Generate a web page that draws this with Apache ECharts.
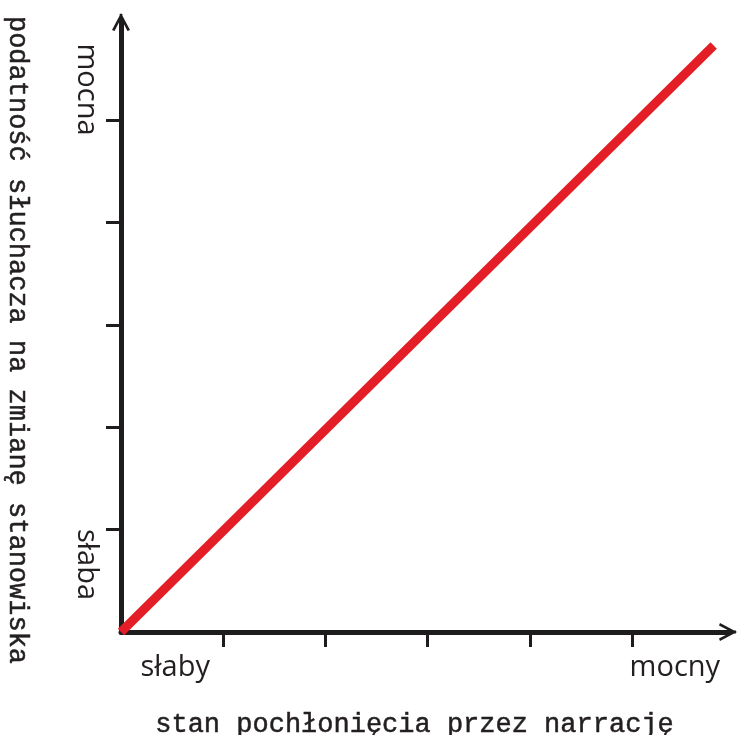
<!DOCTYPE html>
<html>
<head>
<meta charset="utf-8">
<script src="https://cdn.jsdelivr.net/npm/echarts@6/dist/echarts.min.js"></script>
<style>
  html, body { margin: 0; padding: 0; background: #fff; }
  #chart { width: 738px; height: 735px; }
</style>
</head>
<body>
<div id="chart"></div>
<script>
// dane wykresu
var lineData = [[0, 0], [5.8, 5.73]];
var tickValues = [1, 2, 3, 4, 5];
var xLabelValues = [0.53, 5.42];
var xLabels = ['słaby', 'mocny'];
var yLabelValues = [0.66, 5.3];
var yLabels = ['słaba', 'mocna'];
var xTitle = 'stan pochłonięcia przez narrację';
var yTitle = 'podatność słuchacza na zmianę stanowiska';

var ink = '#1e1c1c';
var arrow = 'path://M9,0 L18,17 L15.5,18 L9,5.5 L2.5,18 L0,17 Z M7.6,1 L10.4,1 L10.4,18 L7.6,18 Z';

function labelFor(values, names) {
  return function (v) {
    for (var i = 0; i < values.length; i++) {
      if (Math.abs(values[i] - v) < 1e-6) return names[i];
    }
    return '';
  };
}

// pismo maszynowe - trochę pogrubione obrysem
var typewriter = {
  fontFamily: 'Liberation Mono',
  fontSize: 27,
  color: '#231f20',
  textBorderColor: '#231f20',
  textBorderWidth: 0.5
};

var myChart = echarts.init(document.getElementById('chart'));
var option = {
  animation: false,
  grid: { left: 121, right: 10, top: 22, bottom: 103, outerBoundsMode: 'none', containLabel: false },
  xAxis: {
    type: 'value',
    min: 0,
    max: 5.94,
    interval: 1,
    splitLine: { show: false },
    axisLine: {
      onZero: false,
      symbol: ['none', arrow],
      symbolSize: [19, 18],
      lineStyle: { color: ink, width: 5 }
    },
    axisTick: {
      show: true,
      customValues: tickValues,
      length: 15,
      lineStyle: { color: ink, width: 3 }
    },
    axisLabel: {
      customValues: xLabelValues,
      formatter: labelFor(xLabelValues, xLabels),
      margin: 21,
      fontFamily: 'Open Sans',
      fontSize: 29,
      color: '#231f20'
    },
    name: xTitle,
    nameLocation: 'middle',
    nameGap: 79,
    nameTextStyle: Object.assign({ padding: [0, 20, 0, 0] }, typewriter)
  },
  yAxis: {
    type: 'value',
    min: 0,
    max: 5.96,
    interval: 1,
    splitLine: { show: false },
    axisLine: {
      onZero: false,
      symbol: ['none', arrow],
      symbolSize: [19, 18],
      lineStyle: { color: ink, width: 5 }
    },
    axisTick: {
      show: true,
      customValues: tickValues,
      length: 15,
      lineStyle: { color: ink, width: 3 }
    },
    axisLabel: {
      customValues: yLabelValues,
      formatter: labelFor(yLabelValues, yLabels),
      rotate: -90,
      margin: 20,
      fontFamily: 'Open Sans',
      fontSize: 29,
      color: '#231f20'
    },
    name: yTitle,
    nameLocation: 'middle',
    nameRotate: -90,
    nameGap: 90,
    nameTextStyle: Object.assign({ padding: [0, 0, 0, 26] }, typewriter)
  },
  series: [
    {
      type: 'line',
      data: lineData,
      symbol: 'none',
      clip: false,
      lineStyle: { color: '#e31e26', width: 9 }
    }
  ]
};
myChart.setOption(option);
</script>
</body>
</html>
